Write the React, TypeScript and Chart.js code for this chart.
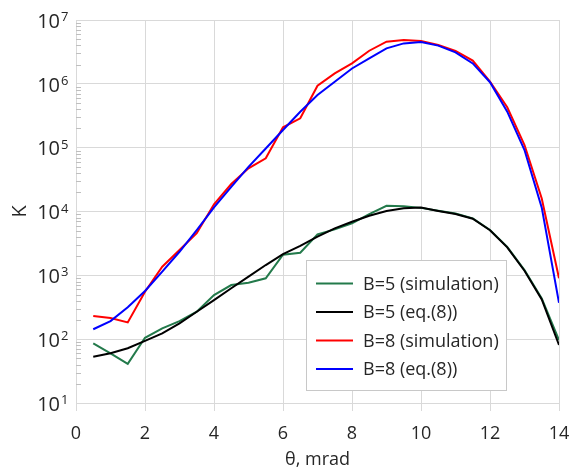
import React, { useEffect, useRef } from 'react';
import { Chart, registerables } from 'chart.js';

Chart.register(...registerables);

const theta = [0.5, 1, 1.5, 2, 2.5, 3, 3.5, 4, 4.5, 5, 5.5, 6, 6.5, 7, 7.5, 8, 8.5, 9, 9.5, 10, 10.5, 11, 11.5, 12, 12.5, 13, 13.5, 14];
const b5Simulation = [86, 60, 41, 105, 148, 192, 269, 490, 704, 767, 898, 2100, 2260, 4390, 5250, 6530, 9130, 12300, 12100, 11400, 10300, 9300, 7800, 5130, 2800, 1210, 436, 97];
const b5Equation = [53, 60, 72, 94, 123, 177, 269, 410, 627, 955, 1450, 2150, 2900, 4030, 5450, 6920, 8600, 10200, 11200, 11500, 10200, 9130, 7700, 5100, 2750, 1180, 420, 81];
const b8Simulation = [231, 214, 183, 553, 1365, 2490, 4570, 13000, 26900, 47500, 68000, 208000, 288000, 935000, 1460000, 2090000, 3300000, 4570000, 4860000, 4700000, 4060000, 3270000, 2310000, 1080000, 429000, 110000, 16000, 900];
const b8Equation = [143, 192, 316, 568, 1140, 2340, 5130, 11600, 24400, 50000, 97000, 189000, 366000, 668000, 1080000, 1740000, 2500000, 3600000, 4300000, 4520000, 3970000, 3120000, 2090000, 1060000, 366000, 91800, 11500, 372];

const seriesNames = ['B=5 (simulation)', 'B=5 (eq.(8))', 'B=8 (simulation)', 'B=8 (eq.(8))'];
const seriesColors = ['#237a4b', '#000000', '#ff0000', '#0000ff'];
const seriesOrder = [3, 1, 2, 0];
const seriesValues = [b5Simulation, b5Equation, b8Simulation, b8Equation];

const xTicks = [0, 2, 4, 6, 8, 10, 12, 14];
const yTicks = [1e1, 1e2, 1e3, 1e4, 1e5, 1e6, 1e7];
const yExponents = ['1', '2', '3', '4', '5', '6', '7'];
const xTitle = 'θ, mrad';
const yTitle = 'K';

const FONT = '"Open Sans", "DejaVu Sans", sans-serif';
const GRID = '#d9d9d9';
const TEXT = '#262626';

const decoPlugin = {
  id: 'deco',
  afterDraw(chart: any) {
    const { ctx, chartArea, scales } = chart;
    const y = scales.y;
    ctx.save();
    // minor ticks on the y axis
    ctx.strokeStyle = '#bfbfbf';
    ctx.lineWidth = 1;
    for (let i = 0; i < yTicks.length - 1; i++) {
      for (let m = 2; m <= 9; m++) {
        const py = Math.round(y.getPixelForValue(yTicks[i] * m)) + 0.5;
        ctx.beginPath();
        ctx.moveTo(chartArea.left, py);
        ctx.lineTo(chartArea.left + 5, py);
        ctx.stroke();
      }
    }
    // exponents
    ctx.fillStyle = TEXT;
    ctx.font = '13px ' + FONT;
    ctx.textAlign = 'left';
    ctx.textBaseline = 'alphabetic';
    yTicks.forEach((v, i) => {
      const py = y.getPixelForValue(v);
      ctx.fillText(yExponents[i], 61, py + 1);
    });
    // legend
    const lx = 306.5, ly = 260.5, lw = 200, lh = 130;
    ctx.fillStyle = '#ffffff';
    ctx.fillRect(lx, ly, lw, lh);
    ctx.strokeStyle = '#c8c8c8';
    ctx.strokeRect(lx, ly, lw, lh);
    ctx.font = '18px ' + FONT;
    ctx.textBaseline = 'middle';
    seriesNames.forEach((name, i) => {
      const ry = 283.5 + i * 28.5;
      ctx.strokeStyle = seriesColors[i];
      ctx.lineWidth = 2;
      ctx.beginPath();
      ctx.moveTo(316, ry);
      ctx.lineTo(353, ry);
      ctx.stroke();
      ctx.fillStyle = TEXT;
      ctx.fillText(name, 363, ry + 1);
    });
    ctx.restore();
  },
};

export default function App() {
  const ref = useRef<HTMLCanvasElement>(null);
  useEffect(() => {
    if (!ref.current) return;
    const chart = new Chart(ref.current, {
      type: 'line',
      data: {
        datasets: seriesValues.map((vals, i) => ({
          label: seriesNames[i],
          data: theta.map((x, j) => ({ x, y: vals[j] })),
          borderColor: seriesColors[i],
          backgroundColor: seriesColors[i],
          borderWidth: 2,
          pointRadius: 0,
          tension: 0,
          fill: false,
          order: seriesOrder[i],
        })),
      },
      options: {
        responsive: false,
        animation: false,
        devicePixelRatio: 1,
        layout: { padding: { top: 20, right: 11, bottom: 0, left: 0 } },
        plugins: { legend: { display: false }, tooltip: { enabled: false } },
        scales: {
          x: {
            type: 'linear',
            min: 0,
            max: 14,
            afterBuildTicks: (s: any) => {
              s.ticks = xTicks.map((v) => ({ value: v }));
            },
            afterFit: (s: any) => {
              s.height = 69;
              s.paddingLeft = 0;
              s.paddingRight = 0;
            },
            grid: { color: GRID, lineWidth: 1, drawTicks: true, tickLength: 8, tickColor: GRID },
            border: { color: GRID, width: 1 },
            ticks: { color: TEXT, font: { family: FONT, size: 18 }, padding: 12, maxRotation: 0, autoSkip: false },
            title: { display: true, text: xTitle, color: TEXT, font: { family: FONT, size: 18, lineHeight: 1.2 }, padding: { top: 0, bottom: 1 } },
          },
          y: {
            type: 'logarithmic',
            min: 10,
            max: 1e7,
            afterBuildTicks: (s: any) => {
              s.ticks = yTicks.map((v) => ({ value: v, major: true }));
            },
            afterFit: (s: any) => {
              s.width = 76;
              s.paddingTop = 0;
              s.paddingBottom = 0;
            },
            grid: { color: GRID, lineWidth: 1, drawTicks: false },
            border: { color: GRID, width: 1 },
            ticks: {
              color: TEXT,
              font: { family: FONT, size: 20 },
              padding: 16,
              autoSkip: false,
              labelOffset: 2,
              callback: () => '10',
            },
            title: { display: true, text: yTitle, color: TEXT, font: { family: FONT, size: 20, lineHeight: 1.2 }, padding: { top: 8, bottom: 0 } },
          },
        },
      },
      plugins: [decoPlugin],
    });
    return () => chart.destroy();
  }, []);
  return (
    <div style={{ position: 'absolute', left: 0, top: 0, width: 570, height: 472, background: '#fff' }}>
      <canvas ref={ref} width={570} height={472} style={{ width: 570, height: 472, display: 'block' }} />
    </div>
  );
}
